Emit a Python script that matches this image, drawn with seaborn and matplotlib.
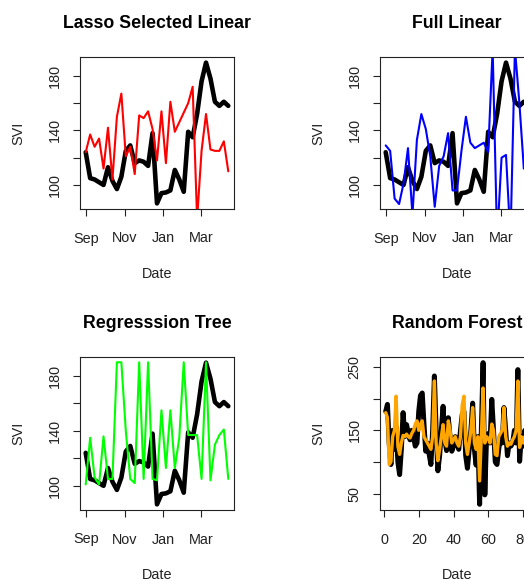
import numpy as np
import pandas as pd
import matplotlib
matplotlib.use("Agg")
import matplotlib.pyplot as plt
import matplotlib.dates as mdates
import seaborn as sns

# ---------------- data ----------------
dates = pd.date_range("2013-09-01", periods=33, freq="7D")

actual_svi = [124, 105, 104, 102, 100, 113, 103, 97, 106, 125, 129, 116, 118, 117, 114, 138,
              86.5, 94, 94.5, 96, 111, 104, 95, 139, 135, 152, 176, 189.7, 178, 161, 158, 161, 158]

lasso_pred = [124, 137, 128, 134, 112, 142, 104, 150, 167, 121, 128, 108, 151, 149, 154, 141,
              118, 154, 116, 161, 139, 146, 153, 160, 172, 75, 125, 152, 126, 125, 125, 132, 110]

full_pred = [129, 125, 90, 86, 101, 127, 78, 133, 152, 141, 121, 84, 114, 121, 138, 96,
             96, 125, 150, 131, 127, 129, 131, 124, 200, 60, 120, 122, 60, 200, 160, 112, 130]

tree_pred = [101, 135, 106, 101, 136, 105, 105, 190, 190, 140, 105, 102, 190, 105, 190, 105,
             104, 155, 113, 155, 113, 135, 190, 137, 137, 137, 105, 190, 104, 130, 137, 141, 105]

rf_index = list(range(1, 84))
rf_actual = [180, 191, 130, 96, 150, 120, 155, 100, 80, 120, 178, 140, 159, 145, 135, 150,
             140, 125, 130, 180, 205, 209, 160, 117, 130, 112, 96, 150, 236, 150, 86, 110,
             150, 188, 135, 118, 170, 140, 117, 125, 140, 130, 120, 150, 175, 180, 110, 90,
             120, 150, 193, 120, 95, 140, 33, 150, 257, 48, 140, 145, 130, 199, 150, 100,
             96, 120, 140, 130, 186, 150, 110, 130, 125, 130, 150, 130, 246, 101, 140, 125,
             150, 130, 140]
rf_pred = [178, 170, 96, 100, 140, 150, 204, 125, 112, 130, 142, 140, 144, 140, 138, 145,
           150, 160, 165, 150, 160, 165, 140, 135, 130, 125, 120, 140, 228, 130, 102, 120,
           140, 159, 130, 125, 165, 150, 130, 135, 140, 130, 125, 140, 190, 204, 130, 112,
           130, 150, 186, 130, 120, 140, 70, 140, 217, 130, 140, 137, 130, 160, 150, 112,
           110, 140, 145, 150, 186, 140, 125, 130, 128, 135, 140, 150, 228, 123, 140, 130,
           140, 135, 140]

titles = ["Lasso Selected Linear", "Full Linear", "Regresssion Tree", "Random Forest"]
month_ticks = ["2013-09-01", "2013-11-01", "2014-01-01", "2014-03-01"]
month_labels = ["Sep", "Nov", "Jan", "Mar"]
svi_ticks = [100, 120, 140, 160, 180]
svi_labels = ["100", "", "140", "", "180"]
rf_yticks = [50, 100, 150, 200, 250]
rf_ylabels = ["50", "", "150", "", "250"]
rf_xticks = [0, 20, 40, 60, 80]

# ---------------- style ----------------
sns.set_theme(style="white")
plt.rcParams["font.family"] = ["Liberation Sans", "DejaVu Sans"]
plt.rcParams["axes.edgecolor"] = "#222222"
plt.rcParams["axes.linewidth"] = 0.8

W, H = 524, 579
fig = plt.figure(figsize=(W / 100, H / 100), dpi=100)


def add_ax(x0, y0, x1, y1):
    return fig.add_axes([x0 / W, 1 - y1 / H, (x1 - x0) / W, (y1 - y0) / H])


def pad_lim(vals, frac=0.04):
    lo, hi = min(vals), max(vals)
    r = hi - lo
    return lo - frac * r, hi + frac * r


def style_ax(ax, title):
    ax.set_title(title, fontsize=12.8, fontweight="bold", pad=21, color="black")
    ax.set_xlabel("Date", fontsize=10.4, labelpad=15.5, color="#222222")
    ax.set_ylabel("SVI", fontsize=10.4, labelpad=16, color="#222222")
    ax.tick_params(axis="both", which="both", direction="out", length=5.2, width=0.8,
                   color="#222222", labelsize=10.4, labelcolor="#222222",
                   bottom=True, left=True, top=False, right=False)
    ax.tick_params(axis="x", pad=11)
    ax.tick_params(axis="y", pad=8)
    for s in ax.spines.values():
        s.set_color("#222222")
        s.set_linewidth(0.8)
    ax.grid(False)
    ax.set_facecolor("white")


def time_panel(ax, pred, color, title):
    df = pd.DataFrame({"Date": dates, "actual": actual_svi, "pred": pred})
    sns.lineplot(data=df, x="Date", y="actual", ax=ax, color="black", linewidth=3.3,
                 estimator=None, sort=False)
    sns.lineplot(data=df, x="Date", y="pred", ax=ax, color=color, linewidth=1.5,
                 estimator=None, sort=False)
    xn = mdates.date2num(dates.to_pydatetime())
    ax.set_xlim(*pad_lim(list(xn)))
    ax.set_ylim(*pad_lim(actual_svi))
    ax.set_xticks(mdates.date2num(pd.to_datetime(month_ticks).to_pydatetime()))
    ax.set_xticklabels(month_labels)
    ax.set_yticks(svi_ticks)
    ax.set_yticklabels(svi_labels, rotation=90, va="center")
    style_ax(ax, title)


ax1 = add_ax(80, 57, 234, 209)
time_panel(ax1, lasso_pred, "#FF0000", titles[0])

ax2 = add_ax(380, 57, 534, 209)
time_panel(ax2, full_pred, "#0000FF", titles[1])

ax3 = add_ax(80, 357, 234, 510)
time_panel(ax3, tree_pred, "#00FF00", titles[2])

ax4 = add_ax(380, 357, 534, 510)
rf_df = pd.DataFrame({"idx": rf_index, "actual": rf_actual, "pred": rf_pred})
sns.lineplot(data=rf_df, x="idx", y="actual", ax=ax4, color="black", linewidth=3.6,
             estimator=None, sort=False)
sns.lineplot(data=rf_df, x="idx", y="pred", ax=ax4, color="#FFA500", linewidth=2.4,
             estimator=None, sort=False)
ax4.set_xlim(*pad_lim(rf_index))
ax4.set_ylim(*pad_lim(rf_actual))
ax4.set_xticks(rf_xticks)
ax4.set_xticklabels([str(v) for v in rf_xticks])
ax4.set_yticks(rf_yticks)
ax4.set_yticklabels(rf_ylabels, rotation=90, va="center")
style_ax(ax4, titles[3])

fig.savefig("out.png", dpi=100, facecolor="white")
